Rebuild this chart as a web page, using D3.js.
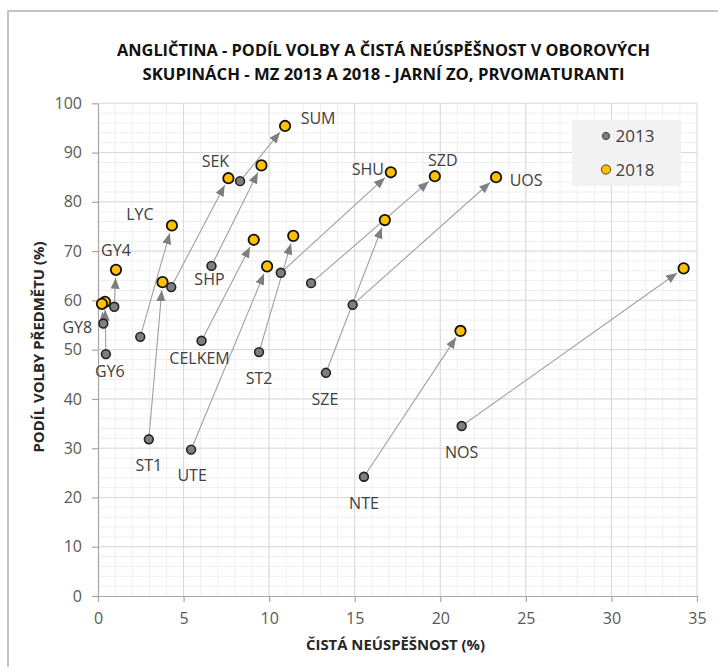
<!DOCTYPE html>
<html>
<head>
<meta charset="utf-8">
<script src="https://cdn.jsdelivr.net/npm/d3@7"></script>
<style>
  html, body { margin: 0; padding: 0; background: #fff; }
  svg { display: block; font-family: "Open Sans", "DejaVu Sans", sans-serif; }
</style>
</head>
<body>
<svg id="chart" width="718" height="667"></svg>
<script>
// ---------- DATA ----------
const titleLines = [
  "ANGLIČTINA - PODÍL VOLBY A ČISTÁ NEÚSPĚŠNOST V OBOROVÝCH",
  "SKUPINÁCH - MZ 2013 A 2018 - JARNÍ ZO, PRVOMATURANTI"
];
const xAxisTitle = "ČISTÁ NEÚSPĚŠNOST (%)";
const yAxisTitle = "PODÍL VOLBY PŘEDMĚTU (%)";
const seriesNames = ["2013", "2018"];

const categories = ["GY4","GY6","GY8","LYC","SEK","SUM","SHP","ST1","CELKEM","UTE","ST2","SHU","SZD","SZE","UOS","NTE","NOS"];
const x2013 = [0.95, 0.46, 0.31, 2.47, 4.28, 8.30, 6.63, 2.97, 6.05, 5.44, 9.41, 10.68, 12.45, 13.32, 14.88, 15.54, 21.25];
const y2013 = [58.7, 49.1, 55.3, 52.6, 62.7, 84.2, 67.0, 31.8, 51.8, 29.7, 49.5, 65.6, 63.5, 45.3, 59.1, 24.2, 34.5];
const x2018 = [1.05, 0.41, 0.23, 4.32, 7.62, 10.93, 9.55, 3.77, 9.10, 9.88, 11.41, 17.11, 19.68, 16.76, 23.26, 21.18, 34.22];
const y2018 = [66.2, 59.7, 59.3, 75.2, 84.8, 95.4, 87.4, 63.7, 72.3, 66.9, 73.1, 86.0, 85.2, 76.3, 85.0, 53.8, 66.5];

const xTicks = [0, 5, 10, 15, 20, 25, 30, 35];
const yTicks = [0, 10, 20, 30, 40, 50, 60, 70, 80, 90, 100];

// ---------- LAYOUT ----------
const plot = { left: 98, right: 697, top: 103.3, bottom: 596 };
// label layout (which point the label belongs to and its offset in px)
const labelLayout = {
  GY4:    { at: 2018, dx: 0,   dy: -20 },
  GY6:    { at: 2013, dx: 4,   dy: 17 },
  GY8:    { at: 2013, dx: -26, dy: 4 },
  LYC:    { at: 2018, dx: -32, dy: -11 },
  SEK:    { at: 2018, dx: -13, dy: -17 },
  SUM:    { at: 2018, dx: 33,  dy: -8 },
  SHP:    { at: 2013, dx: -2,  dy: 13 },
  ST1:    { at: 2013, dx: 0,   dy: 26 },
  CELKEM: { at: 2013, dx: -2,  dy: 17 },
  UTE:    { at: 2013, dx: 1,   dy: 26 },
  ST2:    { at: 2013, dx: 0,   dy: 26 },
  SHU:    { at: 2018, dx: -23, dy: -3 },
  SZD:    { at: 2018, dx: 8,   dy: -16 },
  SZE:    { at: 2013, dx: -1,  dy: 26 },
  UOS:    { at: 2018, dx: 30,  dy: 3 },
  NTE:    { at: 2013, dx: 0,   dy: 26 },
  NOS:    { at: 2013, dx: 0,   dy: 26 }
};

const svg = d3.select("#chart");

// outer chart border (cropped by the picture on right/bottom)
svg.append("rect")
  .attr("x", 8).attr("y", 11).attr("width", 730).attr("height", 680)
  .attr("fill", "#fff").attr("stroke", "#c4c4c4").attr("stroke-width", 2);

const x = d3.scaleLinear().domain([0, 35]).range([plot.left, plot.right]);
const y = d3.scaleLinear().domain([0, 100]).range([plot.bottom, plot.top]);

// minor grid
const g = svg.append("g");
g.selectAll("line.minx").data(d3.range(1, 35)).join("line")
  .attr("x1", d => x(d)).attr("x2", d => x(d))
  .attr("y1", y(0)).attr("y2", y(100))
  .attr("stroke", "#efefef").attr("stroke-width", 1);
g.selectAll("line.miny").data(d3.range(2, 100, 2)).join("line")
  .attr("y1", d => y(d)).attr("y2", d => y(d))
  .attr("x1", x(0)).attr("x2", x(35))
  .attr("stroke", "#efefef").attr("stroke-width", 1);
// major grid
g.selectAll("line.majx").data(xTicks.slice(1)).join("line")
  .attr("x1", d => x(d)).attr("x2", d => x(d))
  .attr("y1", y(0)).attr("y2", y(100))
  .attr("stroke", "#d9d9d9").attr("stroke-width", 1);
g.selectAll("line.majy").data(yTicks.slice(1)).join("line")
  .attr("y1", d => y(d)).attr("y2", d => y(d))
  .attr("x1", x(0)).attr("x2", x(35))
  .attr("stroke", "#d9d9d9").attr("stroke-width", 1);

// axes
const xAxis = svg.append("g").attr("transform", `translate(0,${plot.bottom})`)
  .call(d3.axisBottom(x).tickValues(xTicks).tickSize(6).tickPadding(11).tickSizeOuter(0));
const yAxis = svg.append("g").attr("transform", `translate(${plot.left},0)`)
  .call(d3.axisLeft(y).tickValues(yTicks).tickSize(6).tickPadding(10).tickSizeOuter(0));
[xAxis, yAxis].forEach(a => {
  a.select(".domain").attr("stroke", "#a6a6a6").attr("stroke-width", 1.2);
  a.selectAll(".tick line").attr("stroke", "#a6a6a6").attr("stroke-width", 1.2);
  a.selectAll(".tick text").attr("fill", "#595959")
    .style("font-size", "16px").style("font-family", '"Open Sans", sans-serif');
});

// legend
const lg = svg.append("g");
lg.append("rect").attr("x", 572).attr("y", 120).attr("width", 109).attr("height", 66).attr("fill", "#f2f2f2");
const legendItems = [
  { name: seriesNames[0], fill: "#7f7f7f", stroke: "#3a3a3a", r: 3.6, cy: 136 },
  { name: seriesNames[1], fill: "#ffc000", stroke: "#5a4500", r: 4.6, cy: 169.5 }
];
legendItems.forEach(it => {
  lg.append("circle").attr("cx", 606).attr("cy", it.cy).attr("r", it.r)
    .attr("fill", it.fill).attr("stroke", it.stroke).attr("stroke-width", 1);
  lg.append("text").attr("x", 615.5).attr("y", it.cy).attr("dy", "0.36em")
    .attr("fill", "#404040").style("font-size", "17px").text(it.name);
});

// arrowhead marker
const defs = svg.append("defs");
defs.append("marker").attr("id", "arrow")
  .attr("viewBox", "0 0 11 9").attr("refX", 11).attr("refY", 4.5)
  .attr("markerWidth", 11).attr("markerHeight", 9)
  .attr("markerUnits", "userSpaceOnUse").attr("orient", "auto")
  .append("path").attr("d", "M0,0 L11,4.5 L0,9 Z").attr("fill", "#7f7f7f");

const pts = categories.map((c, i) => ({
  c, x0: x(x2013[i]), y0: y(y2013[i]), x1: x(x2018[i]), y1: y(y2018[i])
}));

// arrows
svg.append("g").selectAll("line").data(pts).join("line")
  .each(function(d) {
    const dx = d.x1 - d.x0, dy = d.y1 - d.y0;
    const len = Math.hypot(dx, dy);
    const k = Math.max(0, (len - 8) / len);
    d3.select(this)
      .attr("x1", d.x0).attr("y1", d.y0)
      .attr("x2", d.x0 + dx * k).attr("y2", d.y0 + dy * k);
  })
  .attr("stroke", "#a0a0a0").attr("stroke-width", 1.1)
  .attr("marker-end", "url(#arrow)");

// 2018 markers
svg.append("g").selectAll("circle").data(pts).join("circle")
  .attr("cx", d => d.x1).attr("cy", d => d.y1).attr("r", 5.2)
  .attr("fill", "#ffc000").attr("stroke", "#111").attr("stroke-width", 1.8);

// 2013 markers
svg.append("g").selectAll("circle").data(pts).join("circle")
  .attr("cx", d => d.x0).attr("cy", d => d.y0).attr("r", 4.4)
  .attr("fill", "#7f7f7f").attr("stroke", "#222").attr("stroke-width", 1.6);

// data labels
svg.append("g").selectAll("text").data(pts).join("text")
  .attr("x", d => { const L = labelLayout[d.c]; return (L.at === 2013 ? d.x0 : d.x1) + L.dx; })
  .attr("y", d => { const L = labelLayout[d.c]; return (L.at === 2013 ? d.y0 : d.y1) + L.dy; })
  .attr("text-anchor", "middle").attr("dy", "0.36em")
  .attr("fill", "#404040").style("font-size", "16px")
  .text(d => d.c);

// title
const tWidths = [533, 482];
titleLines.forEach((t, i) => {
  svg.append("text").attr("x", 383.5).attr("y", 50 + i * 24.5).attr("dy", "0.36em")
    .attr("text-anchor", "middle").attr("fill", "#111")
    .style("font-size", "16.5px").style("font-weight", "bold")
    .attr("textLength", tWidths[i]).attr("lengthAdjust", "spacingAndGlyphs")
    .text(t);
});

// axis titles
svg.append("text").attr("x", 395.5).attr("y", 645).attr("dy", "0.36em")
  .attr("text-anchor", "middle").attr("fill", "#262626")
  .style("font-size", "15px").style("font-weight", "bold")
  .attr("textLength", 179).attr("lengthAdjust", "spacingAndGlyphs")
  .text(xAxisTitle);
svg.append("text")
  .attr("transform", `translate(39,347) rotate(-90)`).attr("dy", "0.36em")
  .attr("text-anchor", "middle").attr("fill", "#262626")
  .style("font-size", "15px").style("font-weight", "bold")
  .attr("textLength", 211).attr("lengthAdjust", "spacingAndGlyphs")
  .text(yAxisTitle);
</script>
</body>
</html>
